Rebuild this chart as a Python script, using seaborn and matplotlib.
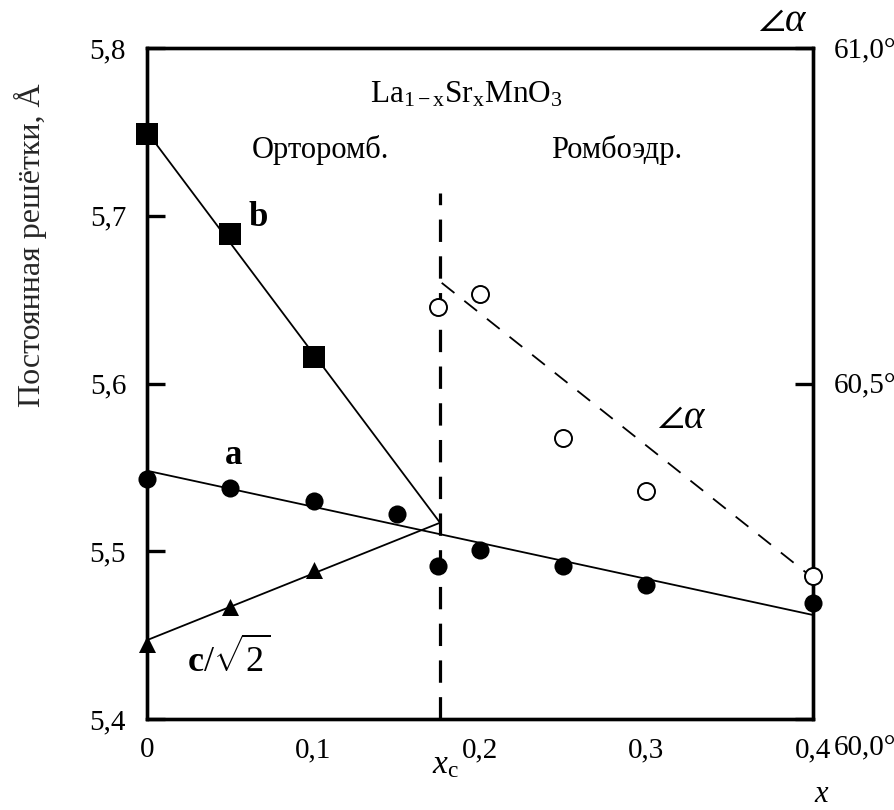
import numpy as np
import pandas as pd
import seaborn as sns
import matplotlib
matplotlib.use("Agg")
import matplotlib.pyplot as plt
import matplotlib.transforms as mtransforms

# Lattice parameters of La(1-x)Sr(x)MnO3 versus Sr content x
b_x = [0.0, 0.05, 0.10]
b_y = [5.749, 5.689, 5.616]

a_x = [0.0, 0.05, 0.10, 0.15, 0.175, 0.20, 0.25, 0.30, 0.40]
a_y = [5.543, 5.538, 5.530, 5.522, 5.491, 5.501, 5.491, 5.480, 5.469]

c_x = [0.0, 0.05, 0.10]
c_y = [5.445, 5.467, 5.489]

# Rhombohedral angle alpha (degrees)
alpha_x = [0.175, 0.20, 0.25, 0.30, 0.40]
alpha_y = [60.614, 60.633, 60.419, 60.340, 60.213]

# Linear fits
x_c = 0.176
b_fit_x = [0.0, x_c]
b_fit_y = [5.750, 5.517]
a_fit_x = [0.0, 0.40]
a_fit_y = [5.548, 5.462]
c_fit_x = [0.0, x_c]
c_fit_y = [5.447, 5.517]
alpha_fit_x = [0.177, 0.40]
alpha_fit_y = [60.65, 60.21]

x_ticks = [0.0, 0.1, 0.2, 0.3, 0.4]
x_ticklabels = ["0", "0,1", "0,2", "0,3", "0,4"]
y_ticks = [5.4, 5.5, 5.6, 5.7, 5.8]
y_ticklabels = ["5,4", "5,5", "5,6", "5,7", "5,8"]
ang_ticks = [60.0, 60.5, 61.0]
ang_ticklabels = ["60,0°", "60,5°", "61,0°"]

sns.set_theme(style="white")
plt.rcParams["font.family"] = ["Liberation Serif", "DejaVu Serif"]
plt.rcParams["mathtext.fontset"] = "custom"
plt.rcParams["mathtext.rm"] = "Liberation Serif"
plt.rcParams["mathtext.it"] = "Liberation Serif:italic"
plt.rcParams["mathtext.bf"] = "Liberation Serif:bold"

fig = plt.figure(figsize=(8.95, 8.1), dpi=100)
ax = fig.add_axes([147 / 895, 1 - 719 / 810, 666 / 895, 671 / 810])
ax2 = ax.twinx()

line_kw = dict(color="black", linewidth=1.3, legend=False, estimator=None, sort=False)

def fit(axis, xs, ys, **kw):
    sns.lineplot(x=xs, y=ys, ax=axis, **line_kw, **kw)

fit(ax, b_fit_x, b_fit_y)
fit(ax, a_fit_x, a_fit_y)
fit(ax, c_fit_x, c_fit_y)

# phase boundary at x_c
ax.plot([x_c, x_c], [5.4, 5.7136], color="black", linewidth=2.3,
        dashes=(7, 4.5), zorder=3)

sns.scatterplot(x=b_x, y=b_y, ax=ax, marker="s", s=230, color="black",
                edgecolor="black", linewidth=0, zorder=5, clip_on=False)
sns.scatterplot(x=a_x, y=a_y, ax=ax, marker="o", s=170, color="black",
                edgecolor="black", linewidth=0, zorder=5, clip_on=False)
sns.scatterplot(x=c_x, y=c_y, ax=ax, marker="^", s=150, color="black",
                edgecolor="black", linewidth=0, zorder=5, clip_on=False)

sns.lineplot(x=alpha_fit_x, y=alpha_fit_y, ax=ax2, color="black", linewidth=1.3,
             legend=False, estimator=None, sort=False, dashes=False)
ax2.lines[-1].set_dashes((9, 7))
sns.scatterplot(x=alpha_x, y=alpha_y, ax=ax2, marker="o", s=150, facecolor="white",
                edgecolor="black", linewidth=1.4, zorder=6, clip_on=False)

ax.set_xlim(0, 0.4)
ax.set_ylim(5.4, 5.8)
ax2.set_ylim(60.0, 61.0)

for a in (ax, ax2):
    for s in a.spines.values():
        s.set_linewidth(2.4)
        s.set_color("black")

ax.set_xticks(x_ticks)
ax.set_xticklabels(x_ticklabels)
ax.set_yticks(y_ticks)
ax.set_yticklabels(y_ticklabels)
ax.tick_params(axis="both", direction="in", length=13, width=2.4, labelsize=21,
               colors="black", top=False, right=False)
ax.tick_params(axis="x", pad=13)
ax.tick_params(axis="y", pad=15)

ax2.set_yticks(ang_ticks)
ax2.set_yticklabels(ang_ticklabels)
ax2.tick_params(axis="y", direction="in", length=13, width=2.4, labelsize=21,
                colors="black", pad=15)
# lowest angle label sits a little below the corner
lbl = ax2.get_yticklabels()[0]
lbl.set_transform(lbl.get_transform() + mtransforms.ScaledTranslation(0, -0.26, fig.dpi_scale_trans))

ax.set_ylabel("")
ax2.set_ylabel("")
fig.text(30 / 895, 1 - 245 / 810, "Постоянная решётки, Å", rotation=90,
         ha="center", va="center", fontsize=23)

txt = dict(color="black", ha="center", va="center")
ax.text(0.192, 5.772, r"$\mathrm{La_{1-x}Sr_xMnO_3}$", fontsize=22.5, **txt)
ax.text(0.104, 5.739, "Орторомб.", fontsize=22, **txt)
ax.text(0.282, 5.739, "Ромбоэдр.", fontsize=22, **txt)
ax.text(0.067, 5.699, "b", fontsize=25, fontweight="bold", **txt)
ax.text(0.0517, 5.557, "a", fontsize=25, fontweight="bold", **txt)
ax.text(0.049, 5.436, r"$\mathbf{c}/\sqrt{2}$", fontsize=26, **txt)
ax.text(0.321, 5.579, r"$\angle\alpha$", fontsize=28, **txt)
ax.text(0.955, 1.039, r"$\angle\alpha$", fontsize=28, transform=ax.transAxes, **txt)
ax.text(1.014, -0.113, r"$x$", fontsize=22, transform=ax.transAxes, **txt)
ax.text(x_c + 0.003, -0.069, r"$x_\mathrm{c}$", fontsize=24,
        transform=ax.get_xaxis_transform(), **txt)

fig.savefig("out.png", dpi=100, facecolor="white")
